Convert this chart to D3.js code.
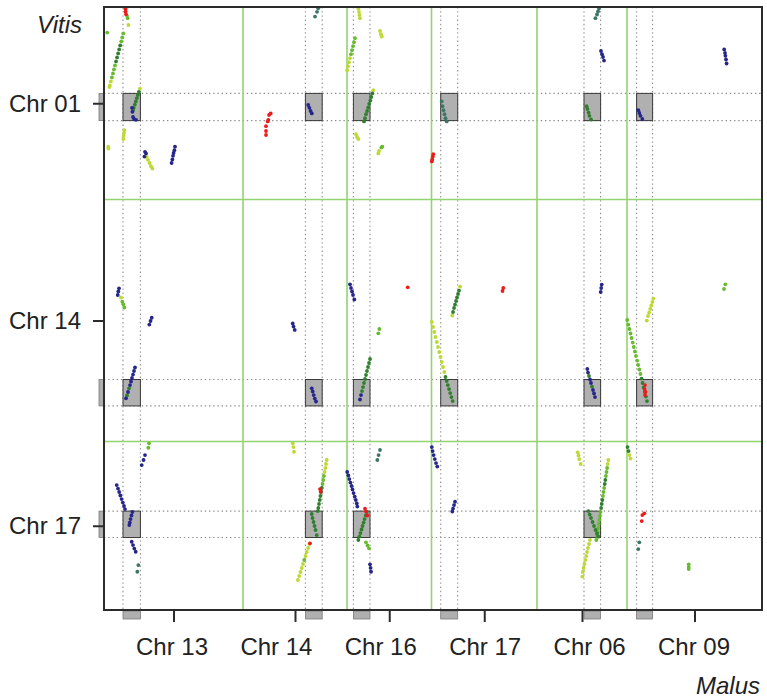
<!DOCTYPE html>
<html>
<head>
<meta charset="utf-8">
<script src="https://cdn.jsdelivr.net/npm/d3@7"></script>
<style>
  html, body { margin: 0; padding: 0; background: #fff; }
  svg { display: block; }
  text { font-family: "Liberation Sans", Arial, sans-serif; fill: #222; }
</style>
</head>
<body>
<svg id="chart" width="767" height="698"></svg>
<script>
// Malus chromosomes along x, Vitis chromosomes along y (lengths in Mb)
const malusChrs = ["13", "14", "16", "17", "06", "09"];
const malusLengths = [34.75, 26.0, 21.125, 26.375, 22.5, 33.75];
const vitisChrs = ["01", "14", "17"];
const vitisLengths = [24.06, 30.25, 21.06];

// highlighted regions (start, end in Mb) per chromosome
const malusRegions = [[4.75, 9.1], [15.6, 19.8], [1.6, 5.75], [2.3, 6.55], [11.75, 15.9], [2.4, 6.4]];
const vitisRegions = [[10.8, 14.2], [22.5, 25.8], [8.7, 12.0]];
// syntenic blocks shown as grey boxes: [malus chr, vitis chr]
const blocks = [
  ["13","01"],["14","01"],["16","01"],["17","01"],["06","01"],["09","01"],
  ["13","14"],["14","14"],["16","14"],["17","14"],["06","14"],["09","14"],
  ["13","17"],["14","17"],["16","17"],["06","17"]
];

// homologous gene pairs, grouped by identity class: [malus chr, vitis chr, [[malus Mb, vitis Mb], ...]]
const redPairs = [
  ["13","01",[[5.4,0.25],[5.4,0.55],[5.5,0.9]]],
  ["14","01",[[6.92,13.3],[6.5,13.5],[6.33,14.1],[6.17,14.3],[5.75,14.9],[5.75,15.5],[5.75,16.0]]],
  ["17","01",[[0.45,18.4],[0.33,18.7],[0.18,19.06],[0.08,19.3]]],
  ["16","14",[[15.18,10.98]]],
  ["17","14",[[17.95,11.06],[17.75,11.44]]],
  ["09","14",[[4.5,23.19],[4.38,23.69],[4.63,24.06],[4.5,24.44]]],
  ["14","17",[[19.25,5.94],[19.43,6.28],[16.75,12.73]]],
  ["16","17",[[4.5,8.38],[4.75,8.75],[5.08,9.25]]],
  ["09","17",[[4.33,8.98],[3.83,9.19],[3.68,9.94]]]
];

const limePairs = [
  ["13","01",[[6.1,2.25],[1.72,9.3],[1.46,9.8],[1.35,10.0],[8.97,10.2],
    [5.07,15.4],[5.0,15.75],[4.92,16.1],[4.83,16.5],[1.07,17.46],[1.1,17.7],
    [10.7,18.75],[11.0,19.1],[11.4,19.5],[11.75,19.9],[12.1,20.2]]],
  ["16","01",[[2.83,0.2],[3.0,0.6],[3.1,1.0],[3.25,1.4],[8.25,3.0],[8.5,3.4],[8.7,3.7],
    [0.75,6.4],[0.5,6.9],[0.25,7.4],[0.05,7.9],[6.58,10.4],
    [2.25,15.9],[2.5,16.25],[2.83,16.5],[7.83,18.3],[8.0,18.0]]],
  ["13","14",[[4.25,12.25]]],
  ["17","14",[[7.13,10.9],[5.2,14.5],[0.08,15.31],[0.38,15.94],[0.7,16.56],[1.0,17.19],[1.33,17.81],
    [1.63,18.44],[1.95,19.06],[2.25,19.69],[2.58,20.31],[2.88,20.94],[3.2,21.56]]],
  ["09","14",[[6.58,12.38],[6.33,12.81],[6.08,13.25],[5.8,13.69],[5.53,14.13],[5.25,14.56],[4.95,15.13]]],
  ["14","17",[[12.43,0.23],[12.6,0.7],[12.75,1.28],[20.93,2.31],[20.75,2.81],[20.58,3.31],[20.4,3.81],
    [16.6,12.81],[16.28,13.31],[15.95,13.81],[15.63,14.31],[14.99,15.31],[14.68,15.81],
    [14.37,16.31],[14.05,16.81],[13.73,17.31]]],
  ["06","17",[[10.18,1.35],[10.38,1.75],[10.58,2.19],[10.93,2.81],[17.83,2.31],[17.68,2.81],
    [13.25,12.31],[13.0,12.81],[12.75,13.31],[12.5,13.81],[12.3,14.31],[12.08,14.81],
    [11.85,15.31],[11.63,15.81],[11.45,16.31],[11.33,16.88]]],
  ["09","17",[[0.63,1.69],[0.88,2.13]]]
];

const greenPairs = [
  ["13","01",[[5.1,0.1],[5.75,1.1],[5.9,1.4],[0.8,3.2],[4.82,3.3],[4.57,3.8],[4.31,4.3],
    [2.75,7.3],[2.49,7.8],[2.23,8.3],[1.98,8.8]]],
  ["16","01",[[2.0,3.9],[1.75,4.4],[1.5,4.9],[1.25,5.4],[1.0,5.9],[8.6,17.56],[8.83,17.46]]],
  ["13","14",[[4.58,12.78],[4.83,13.1],[5.08,13.5]]],
  ["16","14",[[8.08,16.19],[7.83,16.73]]],
  ["09","14",[[24.58,10.6],[24.25,11.19],[0.05,15.06],[0.33,15.63],[0.6,16.19],[0.88,16.75],
    [1.15,17.31],[1.43,17.88],[1.7,18.44],[1.98,19.0],[2.25,19.56],[2.53,20.13],[2.8,20.69],
    [3.08,21.25],[3.35,21.81]]],
  ["13","17",[[11.25,0.23],[11.08,0.78]]],
  ["14","17",[[20.23,4.31],[20.05,4.81],[19.88,5.31],[15.3,14.81]]],
  ["16","17",[[4.75,12.6],[5.13,13.0],[5.5,13.35]]],
  ["06","17",[[17.53,3.31],[17.38,3.81],[17.23,4.31],[16.78,5.81],[16.63,6.31],[16.48,6.81],
    [15.88,8.81],[15.73,9.31],[15.58,9.81],[15.43,10.31],[15.28,10.81],[15.13,11.31],
    [14.98,11.81],[14.83,12.31]]],
  ["09","17",[[15.43,15.35],[15.43,15.69],[15.43,15.94]]]
];

const darkGreenPairs = [
  ["13","01",[[4.05,4.8],[3.79,5.3],[3.53,5.8],[3.27,6.3],[3.01,6.8],
    [8.72,10.6],[8.46,11.0],[8.21,11.4],[7.95,11.8],[7.70,12.2],[7.44,12.6],[7.25,12.9]]],
  ["16","01",[[6.33,10.8],[6.08,11.25],[5.83,11.7],[5.55,12.1],[5.3,12.56],[5.03,13.0],
    [4.75,13.4],[4.5,13.9],[4.25,14.3]]],
  ["06","01",[[12.4,12.4],[12.6,12.75],[12.9,13.2],[13.1,13.6],[13.5,14.06]]],
  ["13","14",[[6.25,23.6],[5.75,24.5]]],
  ["16","14",[[5.75,19.94],[5.5,20.44],[5.25,20.94],[5.0,21.44],[4.75,21.94],[4.5,22.44],
    [4.25,22.94],[4.0,23.44],[3.75,23.94]]],
  ["17","14",[[6.88,11.38],[6.63,11.81],[6.38,12.25],[6.13,12.69],[5.88,13.13],[5.63,13.56],[5.38,14.06],
    [3.5,22.19],[3.8,22.69],[4.08,23.19],[4.38,23.69],[4.68,24.19],[4.98,24.69],[5.3,25.19]]],
  ["06","14",[[13.0,22.06],[13.75,23.38]]],
  ["09","14",[[3.63,22.38],[3.9,22.94],[4.18,23.5],[4.45,24.06],[4.73,24.63],[5.0,25.19]]],
  ["14","17",[[19.7,5.81],[19.53,6.31],[19.35,6.81],[19.18,7.31],[19.0,7.81],[18.83,8.31],[18.68,8.69],
    [17.18,9.06],[17.38,9.56],[17.63,10.06],[17.88,10.56],[18.13,11.06],[18.43,11.69]]],
  ["16","17",[[4.93,8.81],[4.68,9.25],[4.4,9.69],[4.15,10.13],[3.88,10.56],[3.63,11.0],
    [3.35,11.44],[3.1,11.88],[2.83,12.31]]],
  ["06","17",[[17.08,4.81],[16.93,5.31],[16.33,7.31],[16.18,7.81],[16.03,8.31],
    [12.83,8.69],[13.18,9.13],[13.5,9.56],[13.88,10.06],[14.25,10.56],[14.63,11.06],[15.0,11.5],[15.33,11.9]]],
  ["09","17",[[0.13,0.69],[0.38,1.19]]]
];

const tealPairs = [
  ["14","01",[[18.8,0.16],[18.5,0.6],[18.0,1.2]]],
  ["17","01",[[2.55,11.8],[2.75,12.4],[3.0,12.9],[3.25,13.4],[3.5,13.9],[3.8,14.3]]],
  ["06","01",[[15.5,0.2],[15.25,0.56],[15.0,0.94],[14.6,1.4]]],
  ["13","17",[[8.58,15.44],[8.33,16.28]]],
  ["16","17",[[8.25,1.06],[7.9,1.69],[7.58,2.31]]],
  ["09","17",[[3.08,12.6],[2.83,13.44]]]
];

const navyPairs = [
  ["13","01",[[7.0,12.6],[7.1,13.1],[7.25,13.75],[7.5,14.0],[8.0,14.1],
    [10.25,18.1],[10.5,18.3],[10.1,18.7],
    [17.75,17.46],[17.6,17.9],[17.4,18.25],[17.25,18.6],[17.1,19.06],[16.9,19.5]]],
  ["14","01",[[16.3,12.25],[16.6,12.6],[16.9,13.0],[17.2,13.3]]],
  ["06","01",[[16.0,5.5],[16.25,5.9],[16.5,6.25],[16.75,6.7]]],
  ["09","01",[[24.3,5.3],[24.5,5.75],[24.6,6.1],[24.75,6.56],[24.9,7.06],
    [2.83,12.9],[3.08,13.25],[3.38,13.6],[3.83,14.0]]],
  ["13","14",[[3.75,11.1],[3.58,11.5],[3.43,11.94],[11.93,14.78],[11.63,15.19],[11.33,15.63],
    [7.75,21.0],[7.5,21.44],[7.25,21.88],[7.0,22.3],[6.75,22.75],[6.5,23.2],[6.0,24.06],[5.5,24.85]]],
  ["14","14",[[12.43,15.5],[12.63,15.88],[12.93,16.3],
    [17.18,23.6],[17.43,24.0],[17.68,24.44],[17.95,24.88],[18.25,25.25]]],
  ["16","14",[[0.75,10.6],[1.0,11.06],[1.25,11.5],[1.5,11.94],[1.83,12.5],[3.5,24.44],[3.25,25.0]]],
  ["06","14",[[16.18,10.63],[16.05,11.06],[15.93,11.56],
    [12.58,21.19],[12.75,21.63],[13.25,22.5],[13.5,22.94],[14.0,23.81],[14.25,24.25],[14.5,24.69]]],
  ["13","17",[[10.25,1.69],[9.88,2.31],[9.43,2.94],
    [3.18,5.44],[3.5,5.88],[3.8,6.31],[4.1,6.75],[4.4,7.19],[4.7,7.63],[5.0,8.06],[5.25,8.44],
    [7.08,8.81],[6.88,9.25],[6.63,9.69],[6.45,10.13],[6.33,10.44],
    [6.93,12.53],[7.25,12.94],[7.58,13.38],[7.93,13.78]]],
  ["16","17",[[0.05,3.81],[0.33,4.25],[0.58,4.69],[0.85,5.13],[1.13,5.56],[1.38,6.0],[1.65,6.44],
    [1.93,6.88],[2.2,7.31],[2.45,7.75],[2.58,8.13],[5.75,15.35],[5.9,15.8],[6.0,16.28]]],
  ["17","17",[[0.08,0.69],[0.28,1.19],[0.53,1.69],[0.83,2.19],[1.13,2.69],[1.45,3.13],
    [5.88,7.53],[5.63,7.94],[5.38,8.38],[5.2,8.75]]]
];

const pairClasses = [
  { data: limePairs, color: "#bcd934" },
  { data: greenPairs, color: "#66bb2e" },
  { data: darkGreenPairs, color: "#2f7f2f" },
  { data: tealPairs, color: "#3b7566" },
  { data: navyPairs, color: "#25258c" },
  { data: redPairs, color: "#ee1b1b" }
];

const xAxisTitle = "Malus";
const yAxisTitle = "Vitis";

// ---- layout ----
const svg = d3.select("#chart");
const plot = { left: 104, top: 7, right: 762, bottom: 610 };

const malusOffsets = d3.cumsum([0, ...malusLengths.slice(0, -1)]);
const vitisOffsets = d3.cumsum([0, ...vitisLengths.slice(0, -1)]);
const mIdx = new Map(malusChrs.map((c, i) => [c, i]));
const vIdx = new Map(vitisChrs.map((c, i) => [c, i]));

const x = d3.scaleLinear().domain([0, d3.sum(malusLengths)]).range([plot.left, plot.right]);
const y = d3.scaleLinear().domain([0, d3.sum(vitisLengths)]).range([plot.top, plot.bottom]);
const gx = (chr, mb) => x(malusOffsets[mIdx.get(chr)] + mb);
const gy = (chr, mb) => y(vitisOffsets[vIdx.get(chr)] + mb);

svg.append("rect").attr("width", 767).attr("height", 698).attr("fill", "#fff");

// dotted guides for highlighted regions
const guides = svg.append("g").attr("stroke", "#8e8e8e").attr("stroke-width", 1.1)
  .attr("stroke-dasharray", "1.4,2.8");
malusRegions.forEach((r, i) => {
  r.forEach(v => {
    const px = gx(malusChrs[i], v);
    guides.append("line").attr("x1", px).attr("x2", px).attr("y1", plot.top).attr("y2", plot.bottom);
  });
});
vitisRegions.forEach((r, i) => {
  r.forEach(v => {
    const py = gy(vitisChrs[i], v);
    guides.append("line").attr("y1", py).attr("y2", py).attr("x1", plot.left).attr("x2", plot.right);
  });
});

// chromosome boundaries
const bounds = svg.append("g").attr("stroke", "#93d46f").attr("stroke-width", 1.6);
malusOffsets.slice(1).forEach(o => {
  bounds.append("line").attr("x1", x(o)).attr("x2", x(o)).attr("y1", plot.top).attr("y2", plot.bottom);
});
vitisOffsets.slice(1).forEach(o => {
  bounds.append("line").attr("y1", y(o)).attr("y2", y(o)).attr("x1", plot.left).attr("x2", plot.right);
});

// syntenic block boxes
svg.append("g").selectAll("rect").data(blocks).join("rect")
  .attr("x", d => gx(d[0], malusRegions[mIdx.get(d[0])][0]))
  .attr("y", d => gy(d[1], vitisRegions[vIdx.get(d[1])][0]))
  .attr("width", d => gx(d[0], malusRegions[mIdx.get(d[0])][1]) - gx(d[0], malusRegions[mIdx.get(d[0])][0]))
  .attr("height", d => gy(d[1], vitisRegions[vIdx.get(d[1])][1]) - gy(d[1], vitisRegions[vIdx.get(d[1])][0]))
  .attr("fill", "#b0b0b0").attr("stroke", "#3a3a3a").attr("stroke-width", 1);

// region markers on the axes
svg.append("g").selectAll("rect").data(malusRegions).join("rect")
  .attr("x", (r, i) => gx(malusChrs[i], r[0]))
  .attr("width", (r, i) => gx(malusChrs[i], r[1]) - gx(malusChrs[i], r[0]))
  .attr("y", plot.bottom + 1).attr("height", 8)
  .attr("fill", "#b0b0b0").attr("stroke", "#7a7a7a").attr("stroke-width", 0.8);
svg.append("g").selectAll("rect").data(vitisRegions).join("rect")
  .attr("y", (r, i) => gy(vitisChrs[i], r[0]))
  .attr("height", (r, i) => gy(vitisChrs[i], r[1]) - gy(vitisChrs[i], r[0]))
  .attr("x", plot.left - 5).attr("width", 5)
  .attr("fill", "#b0b0b0").attr("stroke", "#7a7a7a").attr("stroke-width", 0.8);

// gene pair dots
pairClasses.forEach(cls => {
  const pts = cls.data.flatMap(([m, v, list]) => list.map(p => [gx(m, p[0]), gy(v, p[1])]));
  svg.append("g").selectAll("circle").data(pts).join("circle")
    .attr("cx", d => d[0]).attr("cy", d => d[1]).attr("r", 1.9)
    .attr("fill", cls.color);
});

// frame
svg.append("rect").attr("x", plot.left).attr("y", plot.top)
  .attr("width", plot.right - plot.left).attr("height", plot.bottom - plot.top)
  .attr("fill", "none").attr("stroke", "#2b2b2b").attr("stroke-width", 2);

// axes: ticks at chromosome midpoints
const xTicks = malusChrs.map((c, i) => malusOffsets[i] + malusLengths[i] / 2);
const yTicks = vitisChrs.map((c, i) => vitisOffsets[i] + vitisLengths[i] / 2);

const xAxis = svg.append("g").attr("transform", `translate(0,${plot.bottom})`)
  .call(d3.axisBottom(x).tickValues(xTicks).tickSize(12).tickFormat(""));
const yAxis = svg.append("g").attr("transform", `translate(${plot.left},0)`)
  .call(d3.axisLeft(y).tickValues(yTicks).tickSize(11).tickFormat(""));
[xAxis, yAxis].forEach(a => {
  a.select(".domain").remove();
  a.selectAll(".tick line").attr("stroke", "#2b2b2b").attr("stroke-width", 2);
});

// bottom chromosome labels, evenly spread along the axis
const labelPos = d3.scalePoint().domain(malusChrs).range([plot.left + 68, plot.right - 68]);
svg.append("g").selectAll("text").data(malusChrs).join("text")
  .attr("x", d => labelPos(d)).attr("y", 655)
  .attr("text-anchor", "middle").attr("font-size", 24)
  .text(d => "Chr " + d);

svg.append("g").selectAll("text").data(vitisChrs).join("text")
  .attr("x", 81).attr("y", (d, i) => y(yTicks[i]) + 8.5)
  .attr("text-anchor", "end").attr("font-size", 24)
  .text(d => "Chr " + d);

svg.append("text").attr("x", 82).attr("y", 33).attr("text-anchor", "end")
  .attr("font-size", 24).attr("font-style", "italic").text(yAxisTitle);
svg.append("text").attr("x", 760).attr("y", 694).attr("text-anchor", "end")
  .attr("font-size", 24).attr("font-style", "italic").text(xAxisTitle);
</script>
</body>
</html>
